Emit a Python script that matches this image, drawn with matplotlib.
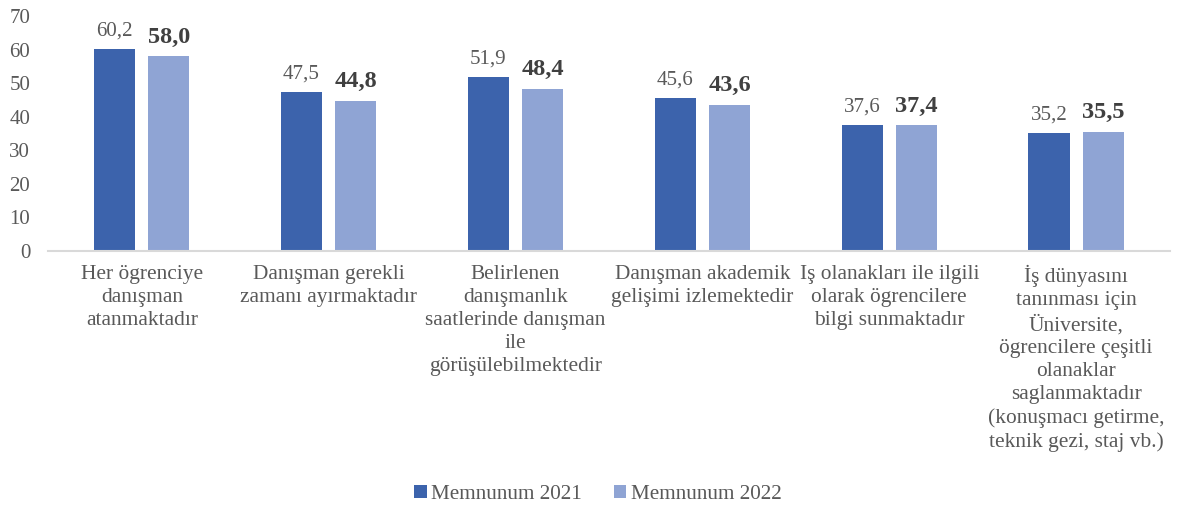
import matplotlib.pyplot as plt
import numpy as np

plt.rcParams['font.family'] = ['Liberation Serif', 'DejaVu Serif']

# data
categories = [
    'Her ögrenciye\ndanışman\natanmaktadır',
    'Danışman gerekli\nzamanı ayırmaktadır',
    'Belirlenen\ndanışmanlık\nsaatlerinde danışman\nile\ngörüşülebilmektedir',
    'Danışman akademik\ngelişimi izlemektedir',
    'Iş olanakları ile ilgili\nolarak ögrencilere\nbilgi sunmaktadır',
    'İş dünyasını\ntanınması için\nÜniversite,\nögrencilere çeşitli\nolanaklar\nsaglanmaktadır\n(konuşmacı getirme,\nteknik gezi, staj vb.)',
]
memnun_2021 = [60.2, 47.5, 51.9, 45.6, 37.6, 35.2]
memnun_2022 = [58.0, 44.8, 48.4, 43.6, 37.4, 35.5]

c1 = '#3C63AC'
c2 = '#8FA4D4'
txt = '#595959'

fig = plt.figure(figsize=(11.79, 5.08), dpi=100)
ax = fig.add_axes([0.041, 0.506, 0.951, 0.4625])

x = np.arange(len(categories))
w = 0.22
gap = 0.035
b1 = ax.bar(x - w/2 - gap, memnun_2021, w, color=c1, label='Memnunum 2021')
b2 = ax.bar(x + w/2 + gap, memnun_2022, w, color=c2, label='Memnunum 2022')

for xi, v in zip(x, memnun_2021):
    ax.text(xi - w/2 - gap, v + 2.5, f'{v:.1f}'.replace('.', ','), ha='center', va='bottom',
            fontsize=15, color=txt)
for xi, v in zip(x, memnun_2022):
    ax.text(xi + w/2 + gap, v + 2.5, f'{v:.1f}'.replace('.', ','), ha='center', va='bottom',
            fontsize=17.5, fontweight='bold', color='#404040')

ax.set_xlim(-0.5, len(categories) - 0.5)
ax.set_ylim(0, 70)
ax.set_yticks(range(0, 71, 10))
ax.set_xticks(x)
ax.set_xticklabels(categories, fontsize=15.4, color=txt, linespacing=1.29)
ax.tick_params(axis='y', labelsize=15, labelcolor=txt, length=0, pad=13)
ax.tick_params(axis='x', length=0, pad=10)

for s in ['top', 'right', 'left']:
    ax.spines[s].set_visible(False)
ax.spines['bottom'].set_color('#D9D9D9')
ax.spines['bottom'].set_linewidth(1.5)

leg = fig.legend(handles=[b1, b2], loc='center', bbox_to_anchor=(0.507, 0.027), ncol=2,
                 frameon=False, fontsize=15.2, handlelength=0.6, handleheight=0.6,
                 handletextpad=0.2, columnspacing=1.5)
for t in leg.get_texts():
    t.set_color(txt)

fig.savefig('out.png', dpi=100)
